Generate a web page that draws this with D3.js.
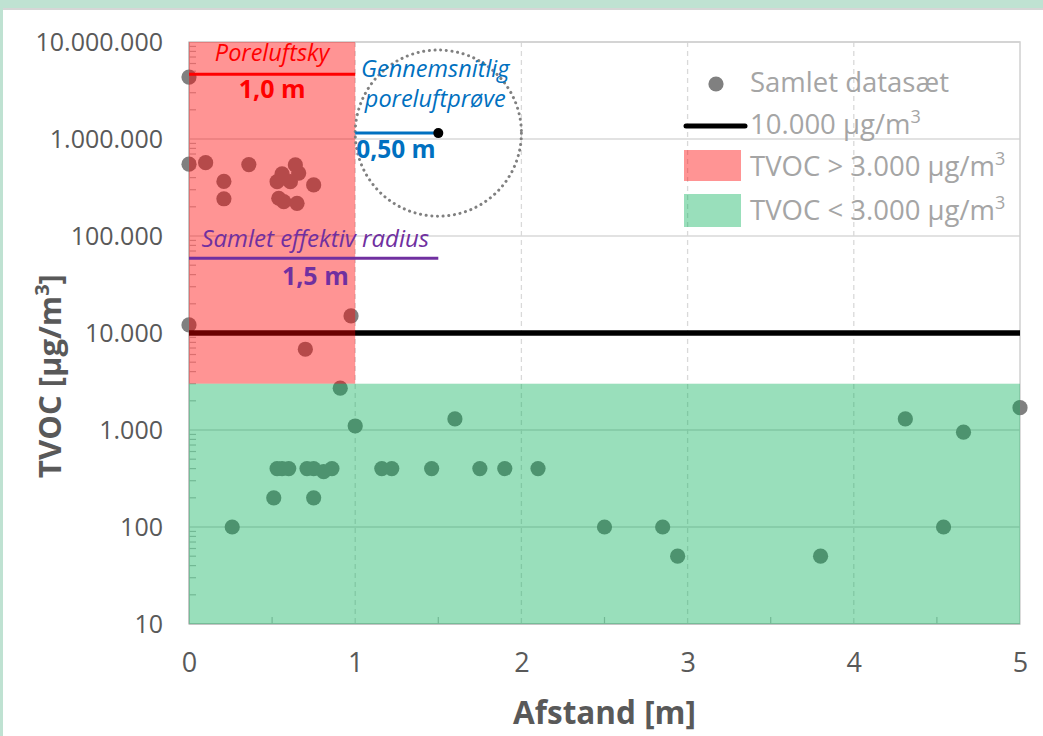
<!DOCTYPE html>
<html>
<head>
<meta charset="utf-8">
<script src="https://cdn.jsdelivr.net/npm/d3@7"></script>
<style>
  html, body { margin: 0; padding: 0; background: #fff; }
  svg { display: block; font-family: "Open Sans", Lato, sans-serif; }
</style>
</head>
<body>
<svg id="chart" width="1043" height="736"></svg>
<script>
// Measured TVOC in soil gas versus distance from the source
const distance = [
  0, 0, 0.10, 0.21, 0.21, 0.36, 0.53, 0.56, 0.61, 0.64, 0.66, 0.54, 0.57, 0.65, 0.75,
  0, 0.975, 0.70,
  0.91, 1.0, 1.6,
  0.53, 0.56, 0.60, 0.71, 0.75, 0.81, 0.86, 1.16, 1.22, 1.46, 1.75, 1.90, 2.10,
  0.51, 0.75, 0.26,
  2.50, 2.85, 2.94, 3.80, 4.31, 4.66, 4.54, 5.0
];
const tvoc = [
  4350000, 550000, 570000, 365000, 242000, 545000, 363000, 436000, 363000, 540000, 445000, 245000, 226000, 217000, 336000,
  12100, 15000, 6800,
  2700, 1100, 1300,
  400, 400, 400, 400, 400, 372, 400, 400, 400, 400, 400, 400, 400,
  200, 200, 100,
  100, 100, 50, 50, 1300, 950, 100, 1700
];

const xTickValues = [0, 1, 2, 3, 4, 5];
const xTickLabels = ["0", "1", "2", "3", "4", "5"];
const yTickValues = [10, 100, 1000, 10000, 100000, 1000000, 10000000];
const yTickLabels = ["10", "100", "1.000", "10.000", "100.000", "1.000.000", "10.000.000"];

const limitValue = 10000;      // 10.000 µg/m3 reference line
const thresholdValue = 3000;   // boundary between the two shaded zones
const cloudRadius = 1.0;       // poreluftsky
const sampleRadius = 0.5;      // gennemsnitlig poreluftprøve
const totalRadius = 1.5;       // samlet effektiv radius

const svg = d3.select("#chart");
const W = 1043, H = 736;

// page frame
svg.append("rect").attr("width", W).attr("height", H).attr("fill", "#bfe2d2");
svg.append("rect").attr("x", 3).attr("y", 10).attr("width", W - 3).attr("height", H - 10).attr("fill", "#ffffff");
svg.append("rect").attr("x", 3).attr("y", 8).attr("width", W - 3).attr("height", 2).attr("fill", "#d6d6d6");

const x = d3.scaleLinear().domain([0, 5]).range([189, 1020]);
const y = d3.scaleLog().domain([10, 1e7]).range([624, 42]);
const [x0, x1] = x.range();
const [yb, yt] = y.range();

const grid = svg.append("g");
// horizontal gridlines at each decade
grid.selectAll("line.h").data(yTickValues).join("line")
  .attr("x1", x0).attr("x2", x1)
  .attr("y1", d => y(d)).attr("y2", d => y(d))
  .attr("stroke", "#d9d9d9").attr("stroke-width", 1.5);
// dashed vertical gridlines
grid.selectAll("line.v").data(xTickValues.slice(1, -1)).join("line")
  .attr("x1", d => x(d)).attr("x2", d => x(d))
  .attr("y1", yt).attr("y2", yb)
  .attr("stroke", "#d9d9d9").attr("stroke-width", 1.3).attr("stroke-dasharray", "5,4");
// plot border
grid.append("rect").attr("x", x0).attr("y", yt).attr("width", x1 - x0).attr("height", yb - yt)
  .attr("fill", "none").attr("stroke", "#d0d0d0").attr("stroke-width", 1.5);
grid.append("line").attr("x1", x0).attr("x2", x0).attr("y1", yt).attr("y2", yb)
  .attr("stroke", "#bfbfbf").attr("stroke-width", 1.5);
grid.append("line").attr("x1", x0).attr("x2", x1).attr("y1", yb).attr("y2", yb)
  .attr("stroke", "#bfbfbf").attr("stroke-width", 1.5);

// minor log ticks along the value axis
const minor = [];
for (let e = 1; e < 7; e++) for (let k = 2; k <= 9; k++) minor.push(k * Math.pow(10, e));
grid.selectAll("line.my").data(minor).join("line")
  .attr("x1", x0).attr("x2", x0 + 7)
  .attr("y1", d => y(d)).attr("y2", d => y(d))
  .attr("stroke", "#bfbfbf").attr("stroke-width", 1.2);
// minor ticks along the distance axis
grid.selectAll("line.mx").data([0.5, 1.5, 2.5, 3.5, 4.5]).join("line")
  .attr("x1", d => x(d)).attr("x2", d => x(d))
  .attr("y1", yb).attr("y2", yb - 7)
  .attr("stroke", "#bfbfbf").attr("stroke-width", 1.2);

// axes labels
const yAxis = svg.append("g").attr("transform", `translate(${x0},0)`)
  .call(d3.axisLeft(y).tickValues(yTickValues).tickFormat((d, i) => yTickLabels[i]).tickSize(0).tickPadding(26));
yAxis.select(".domain").remove();
yAxis.selectAll("text").attr("font-size", 25).attr("fill", "#595959").attr("font-family", "Open Sans");

const xAxis = svg.append("g").attr("transform", `translate(0,${yb})`)
  .call(d3.axisBottom(x).tickValues(xTickValues).tickFormat((d, i) => xTickLabels[i]).tickSize(0).tickPadding(29));
xAxis.select(".domain").remove();
xAxis.selectAll("text").attr("font-size", 27).attr("fill", "#595959").attr("font-family", "Open Sans");

// data points
svg.append("g").selectAll("circle").data(distance).join("circle")
  .attr("cx", d => x(d)).attr("cy", (d, i) => y(tvoc[i]))
  .attr("r", 7.6).attr("fill", "#808080");

// 10.000 µg/m3 line
svg.append("line").attr("x1", x0).attr("x2", x1)
  .attr("y1", y(limitValue)).attr("y2", y(limitValue))
  .attr("stroke", "#000").attr("stroke-width", 5.5);

// shaded zones
svg.append("rect").attr("x", x(0)).attr("y", yt)
  .attr("width", x(cloudRadius) - x(0)).attr("height", y(thresholdValue) - yt)
  .attr("fill", "rgb(255,0,0)").attr("fill-opacity", 0.42);
svg.append("rect").attr("x", x(0)).attr("y", y(thresholdValue))
  .attr("width", x1 - x(0)).attr("height", yb - y(thresholdValue))
  .attr("fill", "rgb(0,175,85)").attr("fill-opacity", 0.4);

// annotations
const ann = svg.append("g");
const cloudLevel = 4.65e6, sampleLevel = 1.15e6, totalLevel = 5.9e4;

ann.append("line").attr("x1", x(0)).attr("x2", x(cloudRadius))
  .attr("y1", y(cloudLevel)).attr("y2", y(cloudLevel))
  .attr("stroke", "#ff0000").attr("stroke-width", 3);
ann.append("text").attr("x", x(cloudRadius / 2)).attr("y", 61).attr("text-anchor", "middle")
  .attr("font-style", "italic").attr("font-size", 23.5).attr("fill", "#ff0000").text("Poreluftsky");
ann.append("text").attr("x", x(cloudRadius / 2)).attr("y", 98).attr("text-anchor", "middle")
  .attr("font-weight", "bold").attr("font-size", 25).attr("fill", "#ff0000").text("1,0 m");

const cx = x(1.5), cy = y(sampleLevel);
ann.append("circle").attr("cx", cx).attr("cy", cy).attr("r", x(sampleRadius) - x(0))
  .attr("fill", "none").attr("stroke", "#808080").attr("stroke-width", 3)
  .attr("stroke-dasharray", "0.1,5.6").attr("stroke-linecap", "round");
ann.append("line").attr("x1", x(1)).attr("x2", cx).attr("y1", cy).attr("y2", cy)
  .attr("stroke", "#0070c0").attr("stroke-width", 3);
ann.append("circle").attr("cx", cx).attr("cy", cy).attr("r", 5).attr("fill", "#000");
ann.append("text").attr("x", cx - 3).attr("y", 77).attr("text-anchor", "middle")
  .attr("font-style", "italic").attr("font-size", 23.5).attr("fill", "#0070c0").text("Gennemsnitlig");
ann.append("text").attr("x", cx - 3).attr("y", 107).attr("text-anchor", "middle")
  .attr("font-style", "italic").attr("font-size", 23.5).attr("fill", "#0070c0").text("poreluftprøve");
ann.append("text").attr("x", x(1) + 1).attr("y", 158)
  .attr("font-weight", "bold").attr("font-size", 24.5).attr("fill", "#0070c0").text("0,50 m");

ann.append("line").attr("x1", x(0)).attr("x2", x(totalRadius))
  .attr("y1", y(totalLevel)).attr("y2", y(totalLevel))
  .attr("stroke", "#7030a0").attr("stroke-width", 3);
ann.append("text").attr("x", x(0.76)).attr("y", 247).attr("text-anchor", "middle")
  .attr("font-style", "italic").attr("font-size", 24).attr("fill", "#7030a0").text("Samlet effektiv radius");
ann.append("text").attr("x", x(0.76)).attr("y", 285).attr("text-anchor", "middle")
  .attr("font-weight", "bold").attr("font-size", 25).attr("fill", "#7030a0").text("1,5 m");

// legend
const lg = svg.append("g").attr("font-size", 27.5).attr("fill", "#a5a5a5");
const lx = 750;
lg.append("circle").attr("cx", 716).attr("cy", 84).attr("r", 7.6).attr("fill", "#808080");
lg.append("text").attr("x", lx).attr("y", 92).text("Samlet datasæt");

lg.append("line").attr("x1", 686).attr("x2", 745).attr("y1", 126).attr("y2", 126)
  .attr("stroke", "#000").attr("stroke-width", 5).attr("stroke-linecap", "round");
const t2 = lg.append("text").attr("x", lx).attr("y", 134);
t2.append("tspan").text("10.000 µg/m");
t2.append("tspan").attr("font-size", 18).attr("dy", -11).text("3");

lg.append("rect").attr("x", 684).attr("y", 150).attr("width", 57).attr("height", 31)
  .attr("fill", "rgb(255,0,0)").attr("fill-opacity", 0.42);
const t3 = lg.append("text").attr("x", lx).attr("y", 176);
t3.append("tspan").text("TVOC > 3.000 µg/m");
t3.append("tspan").attr("font-size", 18).attr("dy", -11).text("3");

lg.append("rect").attr("x", 684).attr("y", 194).attr("width", 57).attr("height", 33)
  .attr("fill", "rgb(0,175,85)").attr("fill-opacity", 0.4);
const t4 = lg.append("text").attr("x", lx).attr("y", 220);
t4.append("tspan").text("TVOC < 3.000 µg/m");
t4.append("tspan").attr("font-size", 18).attr("dy", -11).text("3");

// axis titles
svg.append("text").attr("x", (x0 + x1) / 2).attr("y", 724).attr("text-anchor", "middle")
  .attr("font-weight", "bold").attr("font-size", 31.5).attr("fill", "#595959").text("Afstand [m]");
const yt2 = svg.append("text").attr("transform", `translate(61,${(yt + yb) / 2 + 43}) rotate(-90)`)
  .attr("text-anchor", "middle").attr("font-weight", "bold").attr("font-size", 31).attr("fill", "#595959");
yt2.append("tspan").text("TVOC [µg/m");
yt2.append("tspan").attr("font-size", 20).attr("dy", -12).text("3");
yt2.append("tspan").attr("dy", 12).text("]");
</script>
</body>
</html>
